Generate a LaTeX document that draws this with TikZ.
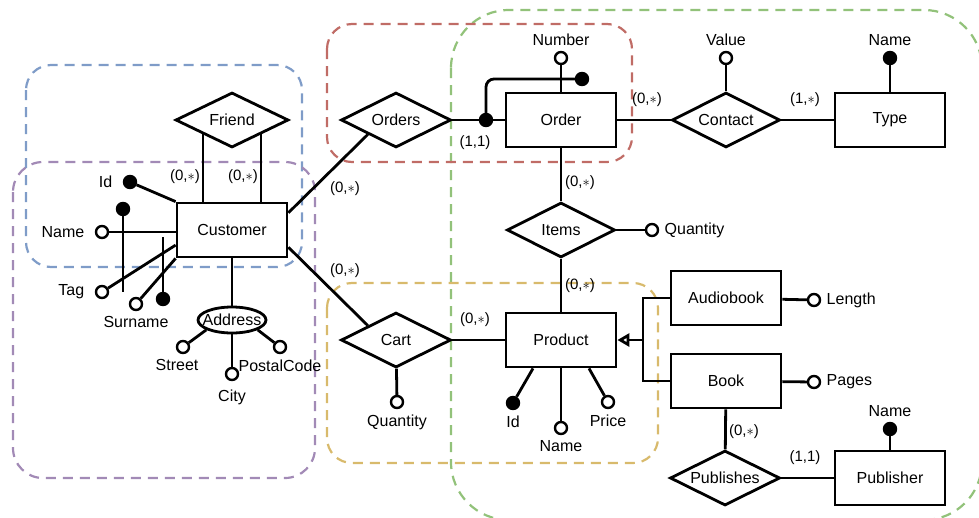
\documentclass[tikz,border=0pt]{standalone}
\usepackage{fontspec}
\setmainfont{Liberation Sans}
\usetikzlibrary{shapes.geometric,arrows.meta}

\definecolor{grpblue}{HTML}{7F9CC8}
\definecolor{grppurple}{HTML}{A28AB6}
\definecolor{grpred}{HTML}{C06C66}
\definecolor{grpyellow}{HTML}{D8BA6C}
\definecolor{grpgreen}{HTML}{92C27A}

\tikzset{
  entity/.style={draw, fill=white, line width=2.8pt, minimum width=110pt, minimum height=54pt, inner sep=0pt},
  relation/.style={draw, diamond, aspect=2, fill=white, line width=2.8pt, minimum width=110pt, minimum height=55pt, inner sep=0pt},
  attr/.style={draw, circle, fill=white, line width=2.4pt, minimum size=12pt, inner sep=0pt},
  keyattr/.style={attr, fill=black},
  card/.style={font=\fontsize{15}{18}\selectfont, inner sep=0pt},
  link/.style={line width=2.8pt},
  region/.style={line width=2.2pt, dash pattern=on 10pt off 7pt, rounded corners=#1},
  every label/.style={label distance=2pt},
}

\begin{document}
\begin{tikzpicture}[x=1pt, y=-1pt, font=\fontsize{16}{19}\selectfont]
\clip (0,0) rectangle (979,517);

% groups
\draw[region=58pt, grpgreen] (451,10) rectangle (982,520);
\draw[region=25pt, grpblue] (26,65) rectangle (302,267);
\draw[region=30pt, grppurple] (13,162) rectangle (315,478);
\draw[region=25pt, grpred] (327,24) rectangle (632,162);
\draw[region=25pt, grpyellow] (327,283) rectangle (658,463);

% entities
\node[entity] (customer) at (232,230) {Customer};
\node[entity] (order) at (561,120) {Order};
\node[entity] (type) at (890,120) {Type};
\node[entity] (product) at (561,340) {Product};
\node[entity] (audiobook) at (726,298) {Audiobook};
\node[entity] (book) at (726,381) {Book};
\node[entity] (publisher) at (890,478) {Publisher};

% relationships
\node[relation, minimum width=113pt] (friend) at (232,120) {Friend};
\node[relation] (orders) at (396,120) {Orders};
\node[relation] (cart) at (396,340) {Cart};
\node[relation, minimum width=108pt] (items) at (561,230) {Items};
\node[relation, minimum width=108pt] (contact) at (726,120) {Contact};
\node[relation] (publishes) at (725,478) {Publishes};

% attributes of Customer
\node[keyattr, label={[label distance=7pt]left:Id}] (custid) at (130,182) {};
\node[attr, label={[label distance=7pt]left:Name}] (custname) at (102,232) {};
\node[keyattr] (custkeyA) at (123,209) {};
\coordinate (custkeyAend) at (123,292);
\node[attr, label={[label distance=7pt]left:Tag}] (custtag) at (102,292) {};
\node[attr, label=below:Surname] (custsurname) at (136,304) {};
\node[keyattr] (custkeyB) at (163,299) {};
\coordinate (custkeyBend) at (163,237);
\node[ellipse, draw, fill=white, line width=2.8pt, minimum width=68pt, minimum height=26pt,
      inner sep=0pt, label={[label distance=0pt]center:Address}] (address) at (232,320) {};
\node[attr, label={[xshift=-6pt]below:Street}] (street) at (183,347) {};
\node[attr, label={[label distance=5pt]below:City}] (city) at (232,374) {};
\node[attr, label=below:PostalCode] (postal) at (280,347) {};

% attributes of the rest
\node[attr, label=above:Number] (number) at (561,58) {};
\node[keyattr] (orderkeyA) at (486,120) {};
\node[keyattr] (orderkeyB) at (582,79) {};
\node[attr, label=above:Value] (value) at (726,58) {};
\node[keyattr, label=above:Name] (typename) at (890,58) {};
\node[attr, label=right:Quantity] (itemsqty) at (652,230) {};
\node[attr, label=below:Quantity] (cartqty) at (397,402) {};
\node[keyattr, label=below:Id] (prodid) at (513,403) {};
\node[attr, label=below:Name] (prodname) at (561,428) {};
\node[attr, label=below:Price] (prodprice) at (608,402) {};
\node[attr, label=right:Length] (length) at (814,300) {};
\node[attr, label=right:Pages] (pages) at (814,382) {};
\node[keyattr, label=above:Name] (pubname) at (890,429) {};
\coordinate (isa) at (643,340);

% links
\draw[link] (custid) -- (customer.north west);
\draw[link] (custname) -- (custname -| customer.west);
\draw[link] (custkeyA) -- (custkeyAend);
\draw[link] (custtag) -- (customer.195);
\draw[link] (custsurname) -- (customer.south west);
\draw[link] (custkeyB) -- (custkeyBend);
\draw[link] (customer) -- (address);
\draw[link] (address.201) -- (street);
\draw[link] (address) -- (city);
\draw[link] (address.339) -- (postal);
\draw[link] (friend.south west) -- (friend.south west |- customer.north);
\draw[link] (friend.south east) -- (friend.south east |- customer.north);
\draw[link] (customer.17) -- (orders.south west);
\draw[link] (customer.343) -- (cart.north west);
\draw[link] (cart) -- (product);
\draw[link] (cart) -- (cartqty);
\draw[link] (orders) -- (order);
\draw[link, rounded corners=8pt] (orderkeyA.center) |- (orderkeyB);
\draw[link] (order) -- (number);
\draw[link] (order) -- (items);
\draw[link] (items) -- (itemsqty);
\draw[link] (items) -- (product);
\draw[link] (order) -- (contact);
\draw[link] (contact) -- (value);
\draw[link] (contact) -- (type);
\draw[link] (type) -- (typename);
\draw[link] ([xshift=-28pt]product.south) -- (prodid);
\draw[link] (product) -- (prodname);
\draw[link] ([xshift=28pt]product.south) -- (prodprice);
\draw[link] (audiobook.west) -| (isa) |- (book.west);
\draw[link, -{Triangle[open, length=12pt, width=13pt]}] (isa) -- (product.east);
\draw[link] (audiobook) -- (length);
\draw[link] (book) -- (pages);
\draw[link] (book) -- (publishes);
\draw[link] (publishes) -- (publisher);
\draw[link] (publisher) -- (pubname);

% cardinalities
\node[card] (cfriendA) at (185,177) {(0,$\ast$)};
\node[card] (cfriendB) at (243,177) {(0,$\ast$)};
\node[card] (corders) at (345,189) {(0,$\ast$)};
\node[card] (cordersB) at (475,143) {(1,1)};
\node[card] (ccart) at (345,271) {(0,$\ast$)};
\node[card] (ccartB) at (475,320) {(0,$\ast$)};
\node[card] (citems) at (580,183) {(0,$\ast$)};
\node[card] (citemsB) at (580,286) {(0,$\ast$)};
\node[card] (ccontact) at (647,100) {(0,$\ast$)};
\node[card] (ccontactB) at (805,100) {(1,$\ast$)};
\node[card] (cpub) at (744,432) {(0,$\ast$)};
\node[card] (cpubB) at (805,458) {(1,1)};
\end{tikzpicture}
\end{document}
